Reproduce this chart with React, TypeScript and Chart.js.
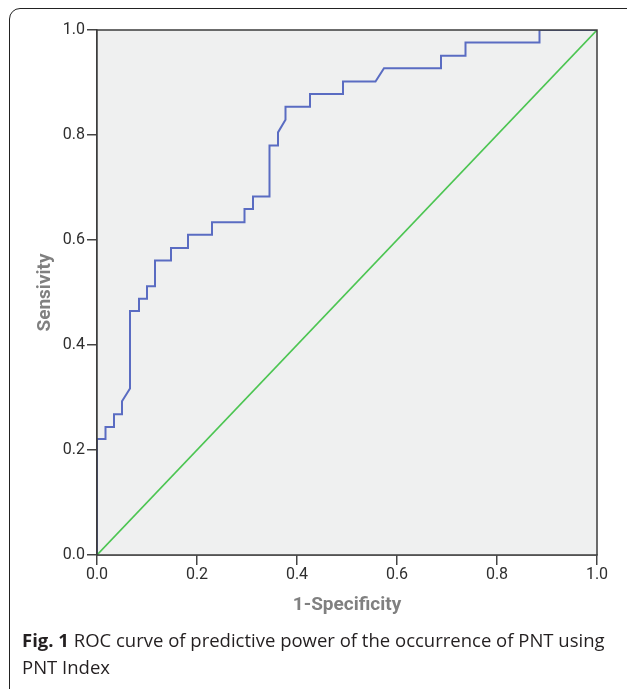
import React, { useEffect, useRef } from "react";
import { Chart, registerables } from "chart.js";

Chart.register(...registerables);

// ROC curve (1-Specificity, Sensitivity)
const rocX = [0, 0, 0.017, 0.017, 0.034, 0.034, 0.05, 0.05, 0.066, 0.066, 0.084, 0.084, 0.1, 0.1, 0.116, 0.116, 0.148, 0.148, 0.182, 0.182, 0.23, 0.23, 0.295, 0.295, 0.312, 0.312, 0.345, 0.345, 0.362, 0.362, 0.377, 0.377, 0.426, 0.426, 0.492, 0.492, 0.557, 0.574, 0.688, 0.688, 0.737, 0.737, 0.885, 0.885, 1.0];
const rocY = [0, 0.221, 0.221, 0.244, 0.244, 0.268, 0.268, 0.293, 0.317, 0.465, 0.465, 0.488, 0.488, 0.512, 0.512, 0.561, 0.561, 0.585, 0.585, 0.61, 0.61, 0.634, 0.634, 0.659, 0.659, 0.683, 0.683, 0.78, 0.78, 0.805, 0.829, 0.854, 0.854, 0.878, 0.878, 0.902, 0.902, 0.927, 0.927, 0.951, 0.951, 0.976, 0.976, 1.0, 1.0];
// Reference diagonal
const refX = [0, 1];
const refY = [0, 1];

const tickValues = [0, 0.2, 0.4, 0.6, 0.8, 1.0];
const xTitle = "1-Specificity";
const yTitle = "Sensivity";

export default function App() {
  const ref = useRef<HTMLCanvasElement>(null);

  useEffect(() => {
    document.body.style.margin = "0";
    const canvas = ref.current!;
    const framePlugin = {
      id: "frame",
      beforeDatasetsDraw(chart: any) {
        const { ctx, chartArea: a } = chart;
        ctx.save();
        ctx.fillStyle = "#eff0f0";
        ctx.fillRect(a.left, a.top, a.right - a.left, a.bottom - a.top);
        ctx.restore();
      },
      afterDatasetsDraw(chart: any) {
        const { ctx, chartArea: a } = chart;
        ctx.save();
        ctx.strokeStyle = "#3c3c3c";
        ctx.lineWidth = 1.5;
        ctx.strokeRect(a.left, a.top, a.right - a.left, a.bottom - a.top);
        ctx.restore();
      },
    };
    const tickFont = { family: "Roboto, 'Liberation Sans', sans-serif", size: 16 };
    const titleFont = { family: "Roboto, 'Liberation Sans', sans-serif", size: 19, weight: "bold" as const, lineHeight: 1.2 };
    const chart = new Chart(canvas, {
      type: "scatter",
      data: {
        datasets: [
          {
            data: refX.map((x, i) => ({ x, y: refY[i] })),
            showLine: true,
            borderColor: "#4cc552",
            borderWidth: 1.6,
            pointRadius: 0,
          },
          {
            data: rocX.map((x, i) => ({ x, y: rocY[i] })),
            showLine: true,
            borderColor: "#5a6cc2",
            borderWidth: 2,
            pointRadius: 0,
          },
        ],
      },
      options: {
        animation: false,
        responsive: false,
        layout: { padding: { left: 0, top: 30, right: 30, bottom: 0 } },
        plugins: { legend: { display: false }, tooltip: { enabled: false } },
        scales: {
          x: {
            type: "linear",
            min: 0,
            max: 1,
            afterFit: (s: any) => { s.height = 134; },
            afterBuildTicks: (s: any) => { s.ticks = tickValues.map((v) => ({ value: v })); },
            ticks: { font: tickFont, color: "#2e2e2e", padding: 0, callback: (v: any) => Number(v).toFixed(1), maxRotation: 0 },
            grid: { drawOnChartArea: false, drawTicks: true, tickLength: 10, tickColor: "#444", lineWidth: 1.5 },
            border: { color: "#3c3c3c", width: 1.5 },
            title: { display: true, text: xTitle, color: "#808080", font: titleFont, padding: { top: 0, bottom: 72 } },
          },
          y: {
            type: "linear",
            min: 0,
            max: 1,
            afterFit: (s: any) => { s.width = 97; },
            afterBuildTicks: (s: any) => { s.ticks = tickValues.map((v) => ({ value: v })); },
            ticks: { font: tickFont, color: "#2e2e2e", padding: 2, callback: (v: any) => Number(v).toFixed(1) },
            grid: { drawOnChartArea: false, drawTicks: true, tickLength: 10, tickColor: "#444", lineWidth: 1.5 },
            border: { color: "#3c3c3c", width: 1.5 },
            title: { display: true, text: yTitle, color: "#808080", font: titleFont, padding: { top: 34, bottom: 0 } },
          },
        },
      },
      plugins: [framePlugin],
    });
    return () => chart.destroy();
  }, []);

  return (
    <div style={{ position: "relative", width: 627, height: 689, overflow: "hidden", background: "#fff" }}>
      <div
        style={{
          position: "absolute",
          left: 9,
          top: 7.5,
          width: 640,
          height: 700,
          border: "1.5px solid #222",
          borderRadius: 11,
          boxSizing: "border-box",
        }}
      />
      <canvas ref={ref} width={627} height={689} style={{ position: "absolute", left: 0, top: 0, width: 627, height: 689 }} />
      <div
        style={{
          position: "absolute",
          left: 22,
          top: 626,
          fontFamily: "'Open Sans', sans-serif",
          fontSize: 18.5,
          lineHeight: "27px",
          color: "#231f20",
          whiteSpace: "nowrap",
        }}
      >
        <b>Fig. 1</b> ROC curve of predictive power of the occurrence of PNT using
        <br />
        PNT Index
      </div>
    </div>
  );
}
